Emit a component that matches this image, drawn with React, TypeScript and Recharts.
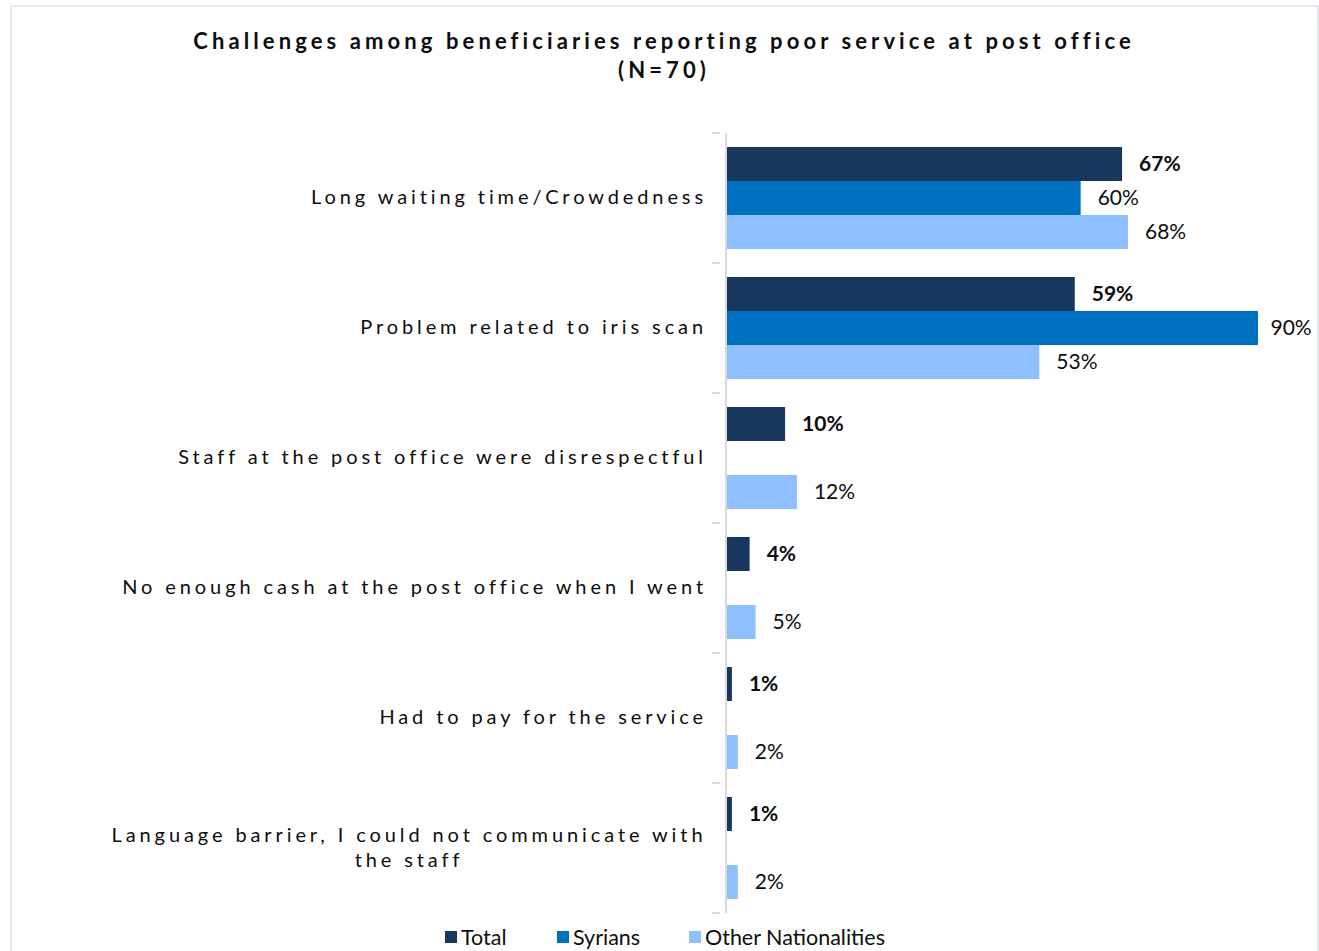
import { BarChart, Bar, XAxis, YAxis, LabelList } from 'recharts';

const categories = [
  'Long waiting time/Crowdedness',
  'Problem related to iris scan',
  'Staff at the post office were disrespectful',
  'No enough cash at the post office when I went',
  'Had to pay for the service',
  'Language barrier, I could not communicate with|the staff',
];
const totalValues = [67, 59, 10, 4, 1, 1];
const syrianValues: (number | null)[] = [60, 90, null, null, null, null];
const otherValues = [68, 53, 12, 5, 2, 2];

const seriesColors = { total: '#17375E', syrians: '#0070C0', other: '#8FBFFF' };
const legendItems = [
  { name: 'Total', color: seriesColors.total, left: 445 },
  { name: 'Syrians', color: seriesColors.syrians, left: 557 },
  { name: 'Other Nationalities', color: seriesColors.other, left: 689 },
];

const data = categories.map((c, i) => ({
  name: c,
  total: totalValues[i],
  syrians: syrianValues[i],
  other: otherValues[i],
}));

const FONT = 'Lato, "Open Sans", sans-serif';

// value label to the right of a bar; pulled back a little if it would run off the frame
function ValueLabel(props: any) {
  const { x, y, width, height, value, bold } = props;
  if (value === null || value === undefined) return null;
  const text = value + '%';
  const estW = text.length * 13.5;
  let tx = x + width + 17;
  if (tx + estW > 1311) tx = 1311 - estW;
  return (
    <text
      x={tx}
      y={y + height / 2}
      dy="0.35em"
      fill="#0D0D0D"
      style={{ fontFamily: FONT, fontSize: 21, fontWeight: bold ? 700 : 400 }}
    >
      {text}
    </text>
  );
}

function CategoryTick(props: any) {
  const { x, y, payload, index, visibleTicksCount } = props;
  const half = payload && payload.offset ? payload.offset : 65;
  const lines = String(payload.value).split('|');
  const lineH = 25;
  const startY = y - 1 - ((lines.length - 1) * lineH) / 2;
  const multi = lines.length > 1;
  return (
    <g>
      <line x1={x - 6} x2={x + 2} y1={y - half} y2={y - half} stroke="#D9D9D9" strokeWidth={2} />
      {index === visibleTicksCount - 1 && (
        <line x1={x - 6} x2={x + 2} y1={y + half} y2={y + half} stroke="#D9D9D9" strokeWidth={2} />
      )}
      {lines.map((l, i) => (
        <text
          key={i}
          x={multi ? x - 309 : x - 11}
          y={startY + i * lineH}
          dy="0.35em"
          textAnchor={multi ? 'middle' : 'end'}
          fill="#0D0D0D"
          style={{ fontFamily: FONT, fontSize: 20, letterSpacing: 3.9 }}
        >
          {l}
        </text>
      ))}
    </g>
  );
}

export default function App() {
  return (
    <div style={{ position: 'absolute', left: 0, top: 0, width: 1319, height: 951, overflow: 'hidden', background: '#fff' }}>
      <div
        style={{
          position: 'absolute',
          left: 10,
          top: 5,
          width: 1309,
          height: 980,
          border: '2px solid #E6E9EE',
          boxSizing: 'border-box',
        }}
      />
      <div
        style={{
          position: 'absolute',
          left: 0,
          width: 1328,
          top: 26,
          textAlign: 'center',
          fontFamily: FONT,
          fontWeight: 700,
          fontSize: 22,
          letterSpacing: 4.1,
          lineHeight: '29px',
          color: '#0D0D0D',
        }}
      >
        Challenges among beneficiaries reporting poor service at post office
        <br />
        (N=70)
      </div>
      <div style={{ position: 'absolute', left: 0, top: 0 }}>
        <BarChart
          width={1319}
          height={951}
          data={data}
          layout="vertical"
          margin={{ top: 133, right: 61, bottom: 38, left: 0 }}
          barGap={0}
        >
          <XAxis type="number" domain={[0, 90]} hide />
          <YAxis
            type="category"
            dataKey="name"
            width={726}
            axisLine={{ stroke: '#D9D9D9', strokeWidth: 2 }}
            tickLine={false}
            tick={<CategoryTick />}
            interval={0}
          />
          <Bar dataKey="total" fill={seriesColors.total} barSize={34} isAnimationActive={false}>
            <LabelList dataKey="total" content={(p: any) => <ValueLabel {...p} bold />} />
          </Bar>
          <Bar dataKey="syrians" fill={seriesColors.syrians} barSize={34} isAnimationActive={false}>
            <LabelList dataKey="syrians" content={(p: any) => <ValueLabel {...p} />} />
          </Bar>
          <Bar dataKey="other" fill={seriesColors.other} barSize={34} isAnimationActive={false}>
            <LabelList dataKey="other" content={(p: any) => <ValueLabel {...p} />} />
          </Bar>
        </BarChart>
      </div>
      {legendItems.map((it) => (
        <div
          key={it.name}
          style={{
            position: 'absolute',
            left: it.left,
            top: 925,
            display: 'flex',
            alignItems: 'center',
            fontFamily: FONT,
            fontSize: 21.5,
            color: '#0D0D0D',
            lineHeight: '24px',
          }}
        >
          <span style={{ display: 'inline-block', width: 12, height: 12, background: it.color, marginRight: 4 }} />
          {it.name}
        </div>
      ))}
    </div>
  );
}
